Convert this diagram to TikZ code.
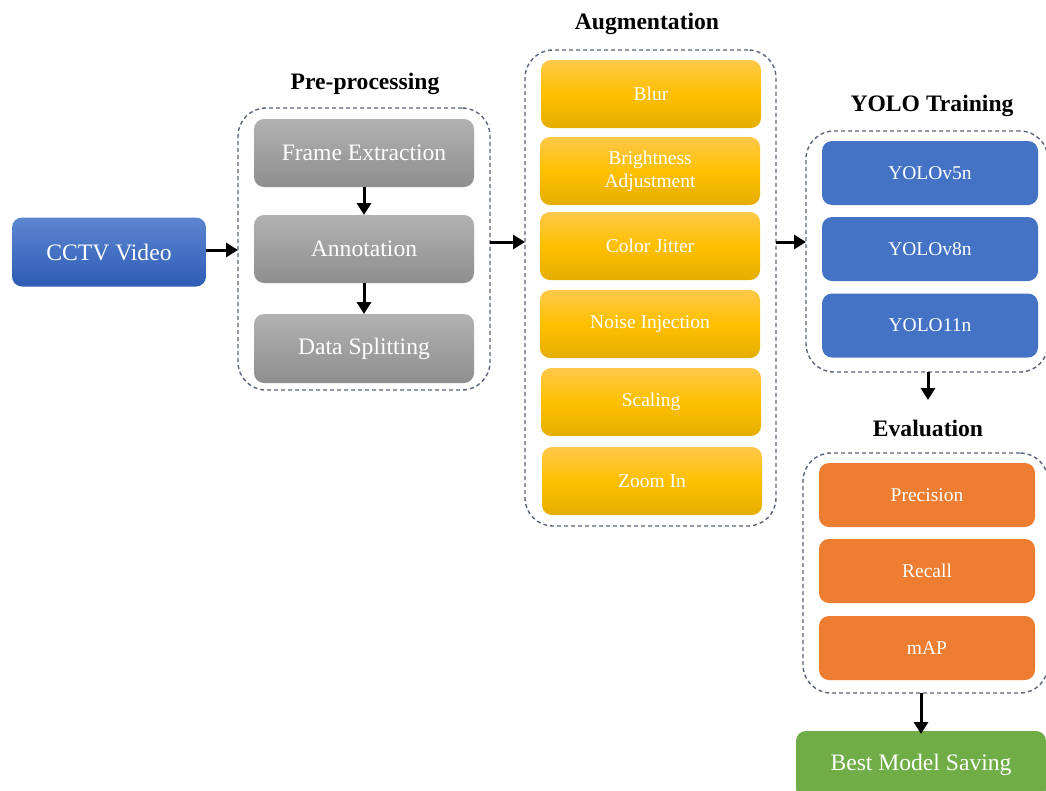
\documentclass[tikz,border=0pt]{standalone}
\usepackage{fontspec}
\setmainfont{Liberation Serif}
\usepackage{xcolor}
\usetikzlibrary{positioning, arrows.meta, calc}

\definecolor{dashcol}{HTML}{5A6478}
\definecolor{cctvtop}{HTML}{5C86D0}
\definecolor{cctvbot}{HTML}{2E5CB6}
\definecolor{graytop}{HTML}{B2B2B2}
\definecolor{graybot}{HTML}{8E8E8E}
\definecolor{yeltop}{HTML}{FFC84A}
\definecolor{yelmid}{HTML}{FFC000}
\definecolor{yelbot}{HTML}{E4AD00}
\definecolor{yoloblue}{HTML}{4472C4}
\definecolor{evalorange}{HTML}{ED7D31}
\definecolor{savegreen}{HTML}{70AD47}

\newcommand\stagefont{\fontsize{23.6}{26}\selectfont\bfseries}
\newcommand\bigboxfont{\fontsize{23.6}{26}\selectfont}
\newcommand\boxfont{\fontsize{19.5}{22}\selectfont}

\tikzset{
  stage/.style={draw=dashcol, dashed, dash pattern=on 4pt off 3pt, line width=1.4pt,
    rounded corners=28pt, outer sep=0pt, inner sep=0pt},
  stagetitle/.style={font=\stagefont, inner sep=0pt},
  box/.style={rounded corners=10pt, text=white, align=center, inner sep=0pt, outer sep=0pt},
  cctvbox/.style={box, font=\bigboxfont, top color=cctvtop, bottom color=cctvbot,
    minimum width=194pt, minimum height=69pt},
  prebox/.style={box, font=\bigboxfont, top color=graytop, bottom color=graybot,
    minimum width=220pt, minimum height=68pt},
  augbox/.style={box, font=\boxfont, top color=yeltop, bottom color=yelbot, middle color=yelmid,
    minimum width=220pt, minimum height=68pt},
  yolobox/.style={box, font=\boxfont, fill=yoloblue, minimum width=216pt, minimum height=64pt},
  evalbox/.style={box, font=\boxfont, fill=evalorange, minimum width=216pt, minimum height=64pt},
  savebox/.style={box, font=\bigboxfont, fill=savegreen, minimum width=250pt, minimum height=68pt},
  arr/.style={-{Triangle[length=12pt,width=14pt]}, line width=3pt}
}

\begin{document}
\begin{tikzpicture}[x=1pt, y=-1pt]
  \useasboundingbox (0,0) rectangle (1046,790);

  % stage frames
  \node[stage, minimum width=252pt, minimum height=282pt] (pre) at (364,249) {};
  \node[stage, minimum width=251pt, minimum height=476pt] (aug) at (650.5,288) {};
  \node[stage, minimum width=242pt, minimum height=241pt] (yolo) at (927,251.5) {};
  \node[stage, minimum width=245pt, minimum height=240pt] (eval) at (925.5,573) {};

  % stage titles
  \node[stagetitle] (pretitle) at (365,84) {Pre-processing};
  \node[stagetitle] (augtitle) at (647,24) {Augmentation};
  \node[stagetitle] (yolotitle) at (932,106) {YOLO Training};
  \node[stagetitle] (evaltitle) at (928,428) {Evaluation};

  % input
  \node[cctvbox] (cctv) at (109,252) {CCTV Video};

  % pre-processing
  \node[prebox] (frame) at (364,153) {Frame Extraction};
  \node[prebox] (annot) at (364,249) {Annotation};
  \node[prebox, minimum height=69pt] (split) at (364,348.5) {Data Splitting};

  % augmentation
  \node[augbox] (blur) at (651,94) {Blur};
  \node[augbox] (bright) at (650,171) {Brightness\\[1pt]Adjustment};
  \node[augbox] (jitter) at (650,246) {Color Jitter};
  \node[augbox] (noise) at (650,324) {Noise Injection};
  \node[augbox] (scale) at (651,402) {Scaling};
  \node[augbox] (zoom) at (652,481) {Zoom In};

  % training
  \node[yolobox] (v5) at (930,173) {YOLOv5n};
  \node[yolobox] (v8) at (930,249) {YOLOv8n};
  \node[yolobox] (v11) at (930,325.5) {YOLO11n};

  % evaluation
  \node[evalbox] (prec) at (927,495) {Precision};
  \node[evalbox] (rec) at (927,571) {Recall};
  \node[evalbox] (map) at (927,648) {mAP};

  % output
  \node[savebox] (best) at (921,765) {Best Model Saving};

  % arrows
  \coordinate (evalin) at (928,400);
  \draw[arr] (cctv.east |- 0,250) -- (pre.west |- 0,250);
  \draw[arr] (frame.south) -- (annot.north);
  \draw[arr] (annot.south) -- (split.north);
  \draw[arr] (pre.east |- 0,242) -- (aug.west |- 0,242);
  \draw[arr] (aug.east |- 0,242) -- (yolo.west |- 0,242);
  \draw[arr] (yolo.south -| evalin) -- (evalin);
  \draw[arr] (eval.south -| best.north) -- ([yshift=-3pt]best.north);
\end{tikzpicture}
\end{document}
